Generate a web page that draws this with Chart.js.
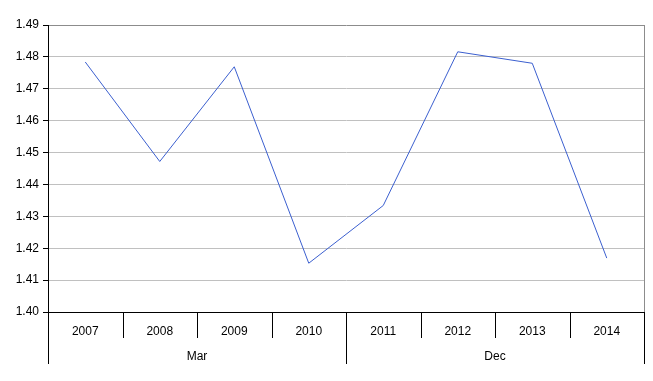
<!DOCTYPE html>
<html><head><meta charset="utf-8">
<script src="https://cdn.jsdelivr.net/npm/chart.js@4"></script>
<style>html,body{margin:0;padding:0;background:#fff}#wrap{width:653px;height:381px}</style>
</head><body><div id="wrap"><canvas id="c" width="653" height="381"></canvas></div>
<script>
const years = ['2007','2008','2009','2010','2011','2012','2013','2014'];
const groups = ['Mar','Dec'];
const groupSizes = [4,4];
const values = [1.4784,1.4472,1.4769,1.4153,1.4334,1.4816,1.4780,1.4169];
const yTicks = {min:1.40, max:1.49, step:0.01};

const FONT = {family:'"Liberation Sans", Arial, sans-serif', size:12};

const groupPlugin = {
  id:'groups',
  afterDraw(chart){
    const ctx = chart.ctx, x = chart.scales.x, a = chart.chartArea;
    const n = years.length;
    const bound = i => i===0 ? a.left : (i===n ? a.right : (x.getPixelForValue(i-1)+x.getPixelForValue(i))/2);
    ctx.save();
    ctx.strokeStyle = '#8c8c8c'; ctx.lineWidth = 1;
    ctx.beginPath(); ctx.moveTo(Math.round(a.right)+0.5, a.top); ctx.lineTo(Math.round(a.right)+0.5, a.bottom); ctx.stroke();
    ctx.strokeStyle = '#000';
    const groupEdges = [0]; let acc=0; groupSizes.forEach(s=>{acc+=s; groupEdges.push(acc);});
    for(let i=0;i<=n;i++){
      const px = Math.round(bound(i))+0.5;
      const long = groupEdges.includes(i);
      ctx.beginPath(); ctx.moveTo(px, a.bottom); ctx.lineTo(px, a.bottom + (long?52:26)); ctx.stroke();
    }
    ctx.fillStyle='#000'; ctx.font = FONT.size+'px '+FONT.family; ctx.textAlign='center'; ctx.textBaseline='middle';
    for(let g=0; g<groups.length; g++){
      const cx = (bound(groupEdges[g]) + bound(groupEdges[g+1]))/2;
      ctx.fillText(groups[g], cx, a.bottom+45);
    }
    ctx.restore();
  }
};

new Chart(document.getElementById('c'), {
  type:'line',
  data:{labels:years, datasets:[{data:values, borderColor:'#3b5fcf', borderWidth:1, pointRadius:0, tension:0, fill:false}]},
  options:{
    responsive:false, animation:false,
    layout:{padding:{left:0,right:9,top:25,bottom:17}},
    plugins:{legend:{display:false}, tooltip:{enabled:false}},
    scales:{
      x:{
        type:'category', offset:true,
        grid:{display:true, drawOnChartArea:false, drawTicks:false},
        border:{display:true, color:'#000', width:1},
        ticks:{color:'#000', font:FONT, padding:12, maxRotation:0, autoSkip:false},
        afterFit(s){ s.height = 52; }
      },
      y:{
        min:yTicks.min, max:yTicks.max,
        ticks:{stepSize:yTicks.step, color:'#000', font:FONT, padding:4, callback:v=>Number(v).toFixed(2)},
        grid:{color:ctx=>Math.abs(ctx.tick.value-yTicks.max)<1e-9?'#8c8c8c':'#c0c0c0', tickColor:'#000', tickLength:5, lineWidth:1},
        border:{display:true, color:'#000', width:1},
        afterFit(s){ s.width = 48; }
      }
    }
  },
  plugins:[groupPlugin]
});
</script></body></html>
